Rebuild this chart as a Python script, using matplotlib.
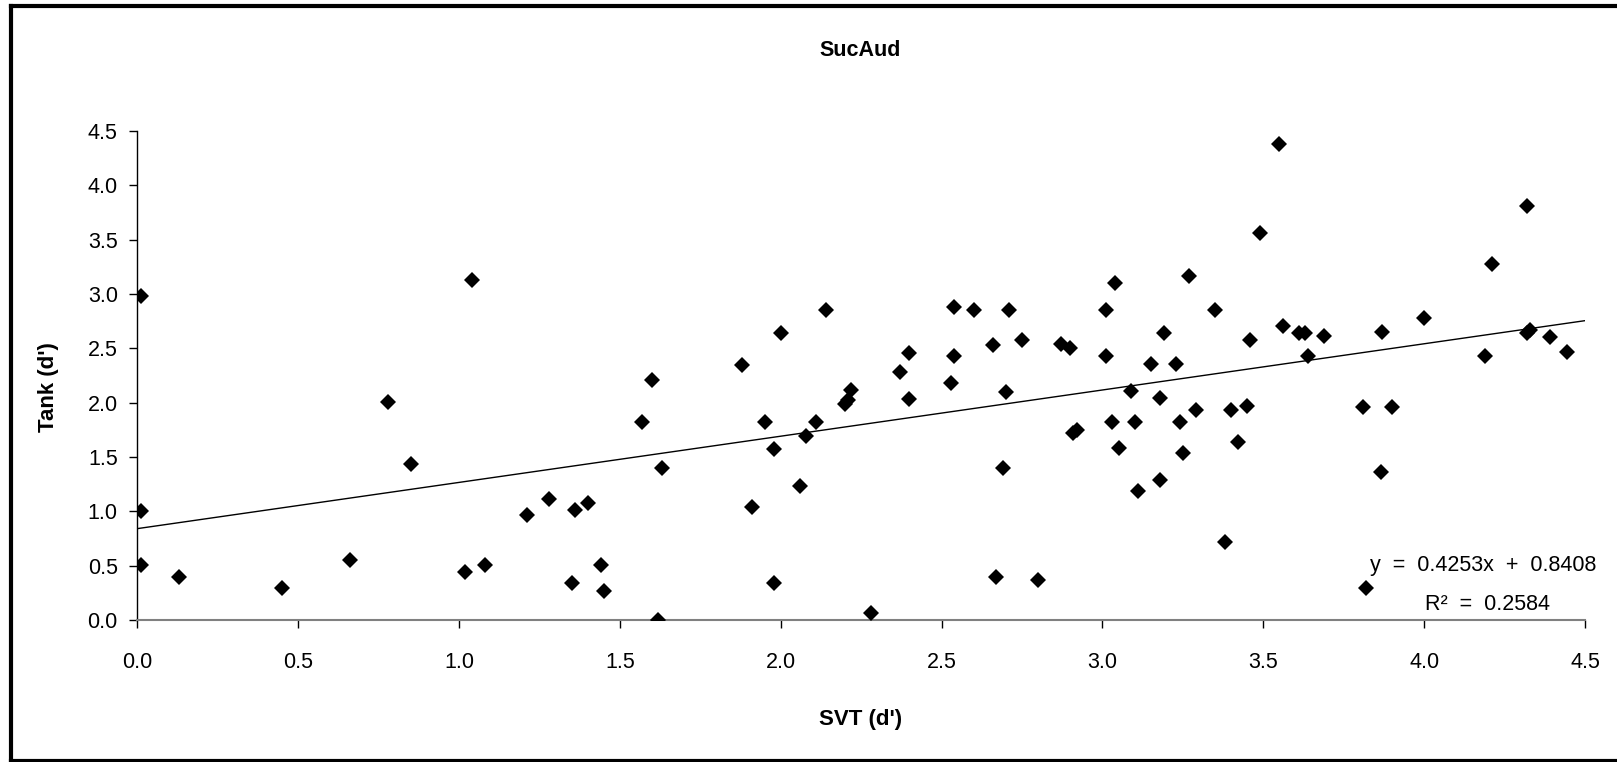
import matplotlib
matplotlib.use("Agg")
import matplotlib.pyplot as plt
from matplotlib.lines import Line2D

plt.rcParams['font.family'] = ['Liberation Sans', 'DejaVu Sans']

title = "SucAud"
x_label = "SVT (d')"
y_label = "Tank (d')"
tick_values = [0.0, 0.5, 1.0, 1.5, 2.0, 2.5, 3.0, 3.5, 4.0, 4.5]
tick_labels = ["0.0", "0.5", "1.0", "1.5", "2.0", "2.5", "3.0", "3.5", "4.0", "4.5"]

svt = [0.01, 0.01, 0.01, 0.13, 0.45, 0.66, 0.78, 0.85, 1.04, 1.02, 1.08,
       1.21, 1.28, 1.36, 1.40, 1.35, 1.44, 1.45, 1.57, 1.60, 1.63, 1.62,
       1.88, 2.00, 2.14, 1.95, 1.98, 2.06, 1.91, 1.98, 2.11, 2.08, 2.22,
       2.21, 2.20, 2.28, 2.40, 2.37, 2.40, 2.54, 2.60, 2.71, 2.54, 2.53,
       2.66, 2.75, 2.70, 2.69, 2.67, 2.80, 2.87, 2.90, 3.01, 3.04, 3.01,
       2.92, 2.91, 3.03, 3.05, 3.09, 3.10, 3.11, 3.18, 3.15, 3.19, 3.18,
       3.27, 3.23, 3.24, 3.29, 3.25, 3.35, 3.38, 3.40, 3.45, 3.42, 3.46,
       3.49, 3.55, 3.56, 3.61, 3.63, 3.64, 3.69, 3.81, 3.90, 3.865, 3.87,
       4.00, 4.21, 4.19, 4.32, 4.33, 4.32, 4.39, 4.445, 3.82]
tank = [2.98, 1.00, 0.51, 0.40, 0.29, 0.55, 2.01, 1.44, 3.13, 0.44, 0.51,
        0.97, 1.11, 1.01, 1.08, 0.34, 0.51, 0.27, 1.82, 2.21, 1.40, 0.00,
        2.35, 2.64, 2.85, 1.82, 1.57, 1.23, 1.04, 0.34, 1.82, 1.69, 2.12,
        2.02, 1.99, 0.06, 2.46, 2.28, 2.03, 2.88, 2.85, 2.85, 2.43, 2.18,
        2.53, 2.58, 2.10, 1.40, 0.40, 0.37, 2.54, 2.50, 2.85, 3.10, 2.43,
        1.75, 1.72, 1.82, 1.58, 2.11, 1.82, 1.19, 1.29, 2.36, 2.64, 2.04,
        3.17, 2.36, 1.82, 1.93, 1.54, 2.85, 0.72, 1.93, 1.97, 1.64, 2.58,
        3.56, 4.38, 2.71, 2.64, 2.64, 2.43, 2.61, 1.96, 1.96, 1.36, 2.65,
        2.78, 3.28, 2.43, 3.81, 2.67, 2.64, 2.60, 2.47, 0.29]

slope = 0.4253
intercept = 0.8408
r_squared = 0.2584
trend_x = [0.0, 4.5]

W, H = 1617, 762
fig = plt.figure(figsize=(W / 100, H / 100), dpi=100)
fig.patch.set_facecolor('white')

def fx(px):
    return px / W

def fy(py):
    return 1 - py / H

ax = fig.add_axes([fx(137.3), fy(620), fx(1585) - fx(137.3), fy(131) - fy(620)])
ax.set_xlim(0, 4.5)
ax.set_ylim(0, 4.5)

ax.plot(trend_x, [slope * v + intercept for v in trend_x], color='black', lw=1.0, zorder=2)
ax.plot(svt, tank, linestyle='none', marker='D', markersize=8, color='black',
        markeredgewidth=0, zorder=3)

ax.set_xticks(tick_values)
ax.set_xticklabels(tick_labels)
ax.set_yticks(tick_values)
ax.set_yticklabels(tick_labels)
ax.tick_params(axis='both', direction='out', length=6, width=1, colors='black', labelsize=15.5)
ax.tick_params(axis='y', pad=8)
ax.tick_params(axis='x', pad=17)

for s in ['top', 'right']:
    ax.spines[s].set_visible(False)
ax.spines['left'].set_color('black')
ax.spines['left'].set_linewidth(1.0)
ax.spines['bottom'].set_color('#808080')
ax.spines['bottom'].set_linewidth(1.5)

fig.text(fx(860), fy(51), title, ha='center', va='center', fontsize=15.5, fontweight='bold')
fig.text(fx(861), fy(719), x_label, ha='center', va='center', fontsize=16, fontweight='bold')
fig.text(fx(48.5), fy(387), y_label, ha='center', va='center', fontsize=16, fontweight='bold', rotation=90)

fig.text(fx(1596), fy(565), "y  =  %.4fx  +  %.4f" % (slope, intercept), ha='right', va='center', fontsize=15.5)
fig.text(fx(1487), fy(604), "R²  =  %.4f" % r_squared, ha='center', va='center', fontsize=15.5)

# outer frame (right edge lies outside the image)
fig.add_artist(Line2D([fx(11), fx(W + 10)], [fy(6), fy(6)], color='black', lw=3.0, transform=fig.transFigure))
fig.add_artist(Line2D([fx(11), fx(11)], [fy(6), fy(H + 10)], color='black', lw=3.0, transform=fig.transFigure))
fig.add_artist(Line2D([fx(11), fx(W + 10)], [fy(760.5), fy(760.5)], color='black', lw=3.0, transform=fig.transFigure))

fig.savefig("out.png", dpi=100, facecolor='white')
